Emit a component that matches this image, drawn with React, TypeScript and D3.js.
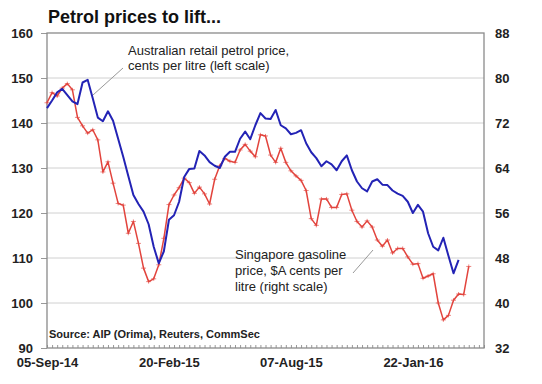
import React, { useEffect, useRef } from 'react';
import * as d3 from 'd3';

// weekly observations starting 05-Sep-14
const dateLabels = ['05-Sep-14', '20-Feb-15', '07-Aug-15', '22-Jan-16'];
const labelWeeks = [0, 24, 48, 72];
const leftTicks = [90, 100, 110, 120, 130, 140, 150, 160];
const rightTicks = [32, 40, 48, 56, 64, 72, 80, 88];

// Australian retail petrol price, cents per litre (left scale)
const retailPrice = [
  143.3, 145, 146.8, 147.6, 146.2, 144.8, 144.2, 149, 149.6, 145.5,
  141.2, 140.4, 142.6, 140.5, 136.5, 132.5, 128.2, 124, 122, 120.3,
  117.5, 112.5, 108.8, 111.5, 118.5, 119.5, 122.5, 128, 129.8, 129.9,
  133.8, 132.8, 131.3, 130.5, 130, 132.5, 133.6, 133.6, 136.5, 138.1,
  136.4, 139.5, 142.2, 141, 140.9, 142.9, 139.5, 138.8, 137.5, 137.8,
  138.4, 135.5, 133.5, 132.2, 130.4, 131.5, 130.8, 129.5, 131.5, 132.8,
  129.5, 127, 125.5, 124.8, 127, 127.5, 126.3, 126.2, 125, 124.3,
  123.8, 122.5, 120, 121.8, 120.3, 115.5, 112.5, 111.7, 114.5, 110.5,
  106.6, 109.6
];

// Singapore gasoline price, $A cents per litre (right scale)
const gasolinePrice = [
  75.6, 77.4, 76.8, 78.2, 79, 77.9, 73, 71.5, 70.2, 70.8,
  69, 63.3, 65.1, 61.3, 57.7, 57.4, 52.4, 54.5, 50.6, 46.2,
  43.8, 44.3, 46.8, 51.5, 57.5, 59.2, 60.5, 62.2, 61.4, 59.5,
  60.6, 59.4, 57.6, 62, 64.4, 65.7, 65.2, 65, 67.2, 68.2,
  67, 66, 69.9, 69.7, 66.3, 65, 67.5, 65, 63.5, 62.6,
  61.8, 60, 55, 53.8, 58.5, 58.5, 57, 57, 59.3, 59.4,
  56.5, 54.5, 53.5, 54.6, 53.5, 51.2, 50.1, 51.2, 48.9, 49.7,
  49.7, 48.2, 46.9, 47, 44.4, 44.8, 45.2, 40, 37, 37.8,
  40.5, 41.6, 41.5, 46.5
];

const font = 'Arial, "Liberation Sans", sans-serif';

function App() {
  const ref = useRef<SVGSVGElement>(null);

  useEffect(() => {
    if (!ref.current) return;
    const svg = d3.select(ref.current);
    svg.selectAll('*').remove();

    const left = 47, right = 484, top = 33, bottom = 348;

    const x = d3.scaleLinear().domain([0, 86]).range([left, right]);
    const yL = d3.scaleLinear().domain([90, 160]).range([bottom, top]);
    const yR = d3.scaleLinear().domain([32, 88]).range([bottom, top]);

    svg.append('rect').attr('width', 542).attr('height', 384).attr('fill', '#fff');

    // gridlines
    svg.append('g')
      .selectAll('line')
      .data(leftTicks.slice(1, -1))
      .join('line')
        .attr('x1', left).attr('x2', right)
        .attr('y1', d => yL(d)).attr('y2', d => yL(d))
        .attr('stroke', '#d0d0d0').attr('stroke-width', 1);

    // left axis
    const gl = svg.append('g')
      .attr('transform', 'translate(' + left + ',0)')
      .call(d3.axisLeft(yL).tickValues(leftTicks).tickSize(6).tickPadding(8).tickSizeOuter(0));
    gl.select('.domain').remove();
    gl.selectAll('line').attr('stroke', '#999');
    gl.selectAll('text').style('font', 'bold 13px ' + font).attr('fill', '#222');

    // right axis
    const gr = svg.append('g')
      .attr('transform', 'translate(' + right + ',0)')
      .call(d3.axisRight(yR).tickValues(rightTicks).tickSize(0).tickPadding(11));
    gr.select('.domain').remove();
    gr.selectAll('text').style('font', 'bold 13px ' + font).attr('fill', '#222');

    // weekly minor ticks
    const gm = svg.append('g')
      .attr('transform', 'translate(0,' + bottom + ')')
      .call(d3.axisBottom(x).tickValues(d3.range(0, 87)).tickSize(-3).tickFormat(() => ''));
    gm.select('.domain').remove();
    gm.selectAll('line').attr('stroke', '#999');

    // date labels
    const gb = svg.append('g')
      .attr('transform', 'translate(0,' + bottom + ')')
      .call(d3.axisBottom(x).tickValues(labelWeeks).tickSize(0).tickPadding(10)
        .tickFormat((d, i) => dateLabels[i]));
    gb.select('.domain').remove();
    gb.selectAll('text').style('font', 'bold 13px ' + font).attr('fill', '#222');

    // plot frame
    svg.append('rect')
      .attr('x', left).attr('y', top)
      .attr('width', right - left).attr('height', bottom - top)
      .attr('fill', 'none').attr('stroke', '#8a8a8a').attr('stroke-width', 1.3);

    // Singapore gasoline
    const redLine = d3.line<number>().x((d, i) => x(i)).y(d => yR(d));
    svg.append('path')
      .datum(gasolinePrice)
      .attr('d', redLine)
      .attr('fill', 'none').attr('stroke', '#e2443d').attr('stroke-width', 1.5)
      .attr('stroke-linejoin', 'round');
    svg.append('g')
      .selectAll('path')
      .data(gasolinePrice)
      .join('path')
        .attr('d', (d, i) => {
          const cx = x(i), cy = yR(d);
          return 'M' + (cx - 2.5) + ',' + cy + 'H' + (cx + 2.5) + 'M' + cx + ',' + (cy - 2) + 'V' + (cy + 2);
        })
        .attr('stroke', '#e2443d').attr('stroke-width', 0.8).attr('opacity', 0.8);

    // Australian retail
    const blueLine = d3.line<number>().x((d, i) => x(i)).y(d => yL(d));
    svg.append('path')
      .datum(retailPrice)
      .attr('d', blueLine)
      .attr('fill', 'none').attr('stroke', '#2323b5').attr('stroke-width', 2)
      .attr('stroke-linejoin', 'round');

    // title
    svg.append('text')
      .attr('x', 48).attr('y', 23)
      .style('font', 'bold 18px ' + font)
      .attr('fill', '#111')
      .text('Petrol prices to lift...');

    // annotations
    const note1 = svg.append('text').style('font', '13px ' + font).attr('fill', '#222');
    note1.append('tspan').attr('x', 128).attr('y', 55).text('Australian retail petrol price,');
    note1.append('tspan').attr('x', 128).attr('y', 70).text('cents per litre (left scale)');
    svg.append('line')
      .attr('x1', 123).attr('y1', 68).attr('x2', 93).attr('y2', 95)
      .attr('stroke', '#999').attr('stroke-width', 1);

    const note2 = svg.append('text').style('font', '13px ' + font).attr('fill', '#222');
    note2.append('tspan').attr('x', 235).attr('y', 259).text('Singapore gasoline');
    note2.append('tspan').attr('x', 235).attr('y', 275).text('price, $A cents per');
    note2.append('tspan').attr('x', 235).attr('y', 291).text('litre (right scale)');
    svg.append('line')
      .attr('x1', 353).attr('y1', 273).attr('x2', 373).attr('y2', 250)
      .attr('stroke', '#999').attr('stroke-width', 1);

    // source
    svg.append('text')
      .attr('x', 49).attr('y', 338)
      .style('font', 'bold 11px ' + font)
      .attr('fill', '#222')
      .text('Source: AIP (Orima), Reuters, CommSec');
  });

  return (
    <svg ref={ref} width={542} height={384}
      style={{ position: 'absolute', left: 0, top: 0 }} />
  );
}

export default App;
